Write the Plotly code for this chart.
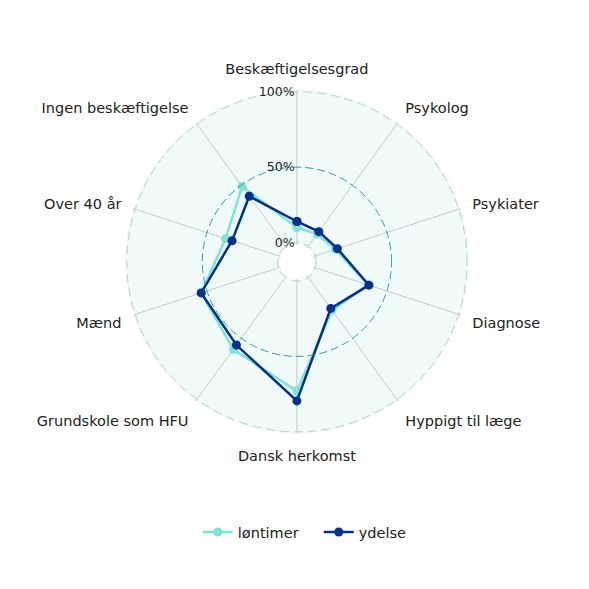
import plotly.graph_objects as go

categories = ["Beskæftigelsesgrad", "Psykolog", "Psykiater", "Diagnose", "Hyppigt til læge",
              "Dansk herkomst", "Grundskole som HFU", "Mænd", "Over 40 år", "Ingen beskæftigelse"]
loentimer = [10, 10, 14, 37, 27, 73, 59, 54, 37, 49]
ydelse = [14, 12, 15.5, 37.5, 25.5, 79.5, 55.5, 54, 32.5, 41]
radial_ticks = [0, 50, 100]

C_LON = "#7fe3d6"
C_YD = "#00308c"

def closed(v):
    return list(v) + [v[0]]

fig = go.Figure()
fig.add_trace(go.Scatterpolar(r=closed(loentimer), theta=closed(categories), name="løntimer",
                              mode="lines+markers", line=dict(color=C_LON, width=2.5),
                              marker=dict(size=9, color=C_LON)))
fig.add_trace(go.Scatterpolar(r=closed(ydelse), theta=closed(categories), name="ydelse",
                              mode="lines+markers", line=dict(color=C_YD, width=2.5),
                              marker=dict(size=9, color=C_YD)))
# invisible trace so the overlay subplot (50% gridline) is rendered
fig.add_trace(go.Scatterpolar(r=[None], theta=[categories[0]], subplot="polar2",
                              showlegend=False, hoverinfo="skip", mode="markers"))

dom_x = [0.151, 0.827]
dom_y = [0.242, 0.918]
rng = [-1.3, 101.3]
fig.update_layout(
    width=589, height=589,
    margin=dict(l=40, r=40, t=40, b=40),
    paper_bgcolor="white",
    font=dict(family="DejaVu Sans", size=14.5, color="#222"),
    polar=dict(
        domain=dict(x=dom_x, y=dom_y),
        hole=0.1,
        bgcolor="#effaf9",
        radialaxis=dict(range=rng, tickvals=[radial_ticks[0], radial_ticks[2]],
                        ticktext=[f"{v}%" for v in (radial_ticks[0], radial_ticks[2])],
                        angle=90, tickangle=90, side="counterclockwise", showline=False, ticks="",
                        gridcolor="#c5caca", griddash="9px,5px", gridwidth=1.3,
                        tickfont=dict(size=12.5, color="#222")),
        angularaxis=dict(direction="clockwise", rotation=90, showline=False,
                         gridcolor="#c8c8c8", ticks="outside", ticklen=9,
                         tickcolor="rgba(0,0,0,0)", tickfont=dict(size=14.5, color="#222")),
    ),
    polar2=dict(
        domain=dict(x=dom_x, y=dom_y),
        hole=0.1,
        bgcolor="rgba(0,0,0,0)",
        radialaxis=dict(range=rng, tickvals=[radial_ticks[1]], ticktext=[f"{radial_ticks[1]}%"],
                        angle=90, tickangle=90, side="counterclockwise", showline=False, ticks="",
                        gridcolor="#3a9aa3", griddash="8px,4px", gridwidth=1.4,
                        tickfont=dict(size=12.5, color="#222")),
        angularaxis=dict(direction="clockwise", rotation=90, showline=False, showgrid=False,
                         showticklabels=False, ticks=""),
    ),
    legend=dict(orientation="h", x=0.532, xanchor="center", y=0.049, yanchor="middle",
                entrywidth=76, font=dict(size=14.5, color="#222")),
)
fig.write_html("out.html")
